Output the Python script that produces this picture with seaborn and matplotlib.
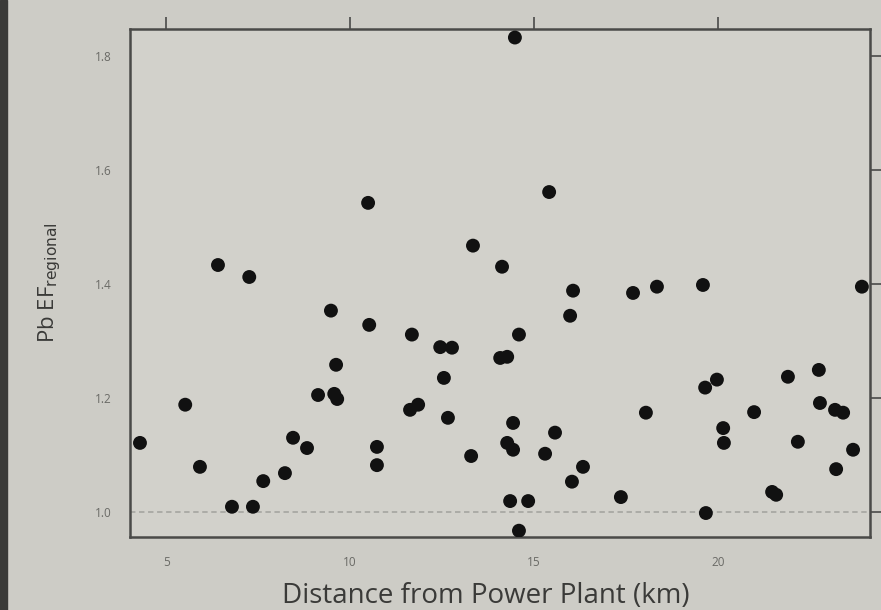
import numpy as np
import pandas as pd
import matplotlib
matplotlib.use("Agg")
import matplotlib.pyplot as plt
import seaborn as sns

# values
distance_km = [4.29, 5.52, 5.92, 6.41, 6.79, 7.26, 7.36, 7.64, 8.23, 8.45,
               8.83, 9.13, 9.57, 9.65, 9.48, 9.62, 10.52, 10.49, 10.73, 10.73,
               11.63, 11.85, 11.68, 12.45, 12.77, 12.55, 12.66, 13.29, 13.34, 14.13,
               14.08, 14.27, 14.48, 14.59, 14.43, 14.27, 14.43, 14.35, 14.84, 14.59,
               15.41, 15.30, 15.57, 15.98, 16.06, 16.03, 16.33, 17.36, 17.69, 18.04,
               18.34, 19.59, 19.65, 19.97, 19.67, 20.14, 20.16, 20.98, 21.47, 21.58,
               21.90, 22.17, 22.74, 22.77, 23.18, 23.40, 23.21, 23.67, 23.91]
pb_ef = [1.121, 1.188, 1.079, 1.433, 1.009, 1.412, 1.009, 1.054, 1.068, 1.130,
         1.112, 1.205, 1.207, 1.198, 1.353, 1.258, 1.328, 1.542, 1.114, 1.082,
         1.179, 1.188, 1.311, 1.289, 1.288, 1.235, 1.165, 1.098, 1.467, 1.430,
         1.270, 1.272, 1.832, 1.311, 1.156, 1.121, 1.109, 1.019, 1.019, 0.967,
         1.561, 1.102, 1.139, 1.344, 1.388, 1.053, 1.079, 1.026, 1.384, 1.174,
         1.395, 1.398, 1.218, 1.232, 0.998, 1.147, 1.121, 1.175, 1.035, 1.030,
         1.237, 1.123, 1.249, 1.191, 1.179, 1.174, 1.075, 1.109, 1.395]

x_ticks = [5, 10, 15, 20]
y_ticks = [1.0, 1.2, 1.4, 1.6, 1.8]
y_tick_labels = ["1.0", "1.2", "1.4", "1.6", "1.8"]

df = pd.DataFrame({"distance": distance_km, "ef": pb_ef})

sns.set_style("white")
plt.rcParams["font.family"] = ["Open Sans", "DejaVu Sans"]

paper = "#cdccc6"
ink = "#4a4a48"

fig = plt.figure(figsize=(8.81, 6.10), dpi=100, facecolor=paper)
ax = fig.add_axes([0.1476, 0.1197, 0.8399, 0.8328])
ax.set_facecolor("#d2d1cb")

# reference line at EF = 1
ax.axhline(1.0, color="#a9a9a4", lw=1.3, ls=(0, (3, 2)), zorder=1)

sns.scatterplot(data=df, x="distance", y="ef", ax=ax, color="#111111",
                s=100, edgecolor="none", zorder=3, legend=False)

ax.set_xlim(4.02, 24.13)
ax.set_ylim(0.956, 1.847)

ax.set_xticks(x_ticks)
ax.set_yticks(y_ticks)
ax.set_yticklabels(y_tick_labels)
ax.tick_params(axis="both", direction="out", length=9, width=1.2, color=ink,
               labelcolor="#6a6a66", labelsize=8.5,
               top=True, right=True, labeltop=False, labelright=False)
ax.tick_params(axis="x", pad=5)
ax.tick_params(axis="y", pad=4)

for sp in ax.spines.values():
    sp.set_color(ink)
    sp.set_linewidth(1.8)

ax.set_xlabel("Distance from Power Plant (km)", fontsize=20, color="#3a3a38")
ax.xaxis.set_label_coords(0.481, -0.088)
ax.set_ylabel("Pb EF$_{\\mathrm{regional}}$", fontsize=16, color="#3a3a38")
ax.yaxis.set_label_coords(-0.09, 0.5)

# dark edge of the photographed page
fig.patches.append(plt.Rectangle((0, 0), 0.008, 1, transform=fig.transFigure,
                                 color="#3a3a38", zorder=0))

fig.savefig("out.png", dpi=100, facecolor=paper)
